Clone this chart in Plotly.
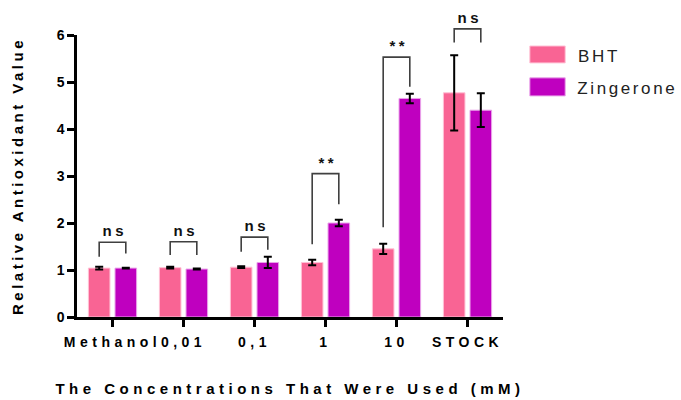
import plotly.graph_objects as go

categories = ["Methanol", "0,01", "0,1", "1", "10", "STOCK"]
series_names = ["BHT", "Zingerone"]
bht_values = [1.04, 1.05, 1.06, 1.16, 1.45, 4.77]
bht_errors = [0.03, 0.02, 0.02, 0.06, 0.11, 0.80]
zing_values = [1.04, 1.02, 1.16, 2.00, 4.65, 4.40]
zing_errors = [0.01, 0.01, 0.12, 0.07, 0.10, 0.36]
sig_labels = ["ns", "ns", "ns", "**", "**", "ns"]
bracket_top = [1.59, 1.60, 1.70, 3.05, 5.53, 6.13]
bracket_left_end = [1.28, 1.32, 1.39, 1.55, 1.91, 5.84]
bracket_right_end = [1.35, 1.32, 1.43, 2.40, 4.90, 5.84]
y_ticks = [0, 1, 2, 3, 4, 5, 6]

colors = ["#F96494", "#BF00BF"]
outline = ["#FFC2D6", "#E9A3E9"]
BARGAP = 0.25
Y_MAX = 6
FONT = "Liberation Sans, Arial, sans-serif"


def ydom(v):
    return v / Y_MAX


x_idx = list(range(len(categories)))
fig = go.Figure()
for name, vals, errs, c, oc in [
    (series_names[0], bht_values, bht_errors, colors[0], outline[0]),
    (series_names[1], zing_values, zing_errors, colors[1], outline[1]),
]:
    fig.add_trace(go.Bar(
        x=x_idx, y=vals, name=name,
        marker=dict(color=c, line=dict(color=oc, width=1)),
        error_y=dict(type="data", array=errs, visible=True, color="black",
                     thickness=2, width=4),
        showlegend=False,
    ))

off = (1 - BARGAP) / 4
for i, lab in enumerate(sig_labels):
    x0, x1 = i - off, i + off
    yl, yt, yr = ydom(bracket_left_end[i]), ydom(bracket_top[i]), ydom(bracket_right_end[i])
    fig.add_shape(type="path",
                  path=f"M {x0},{yl} L {x0},{yt} L {x1},{yt} L {x1},{yr}",
                  line=dict(color="#404040", width=1.6), xref="x", yref="y domain")
    fig.add_annotation(x=i, y=yt, xref="x", yref="y domain", text=f"<b>{lab}</b>",
                       showarrow=False, yanchor="bottom", yshift=1, xshift=2,
                       font=dict(family=FONT, size=15, color="#111"))

# custom legend
leg_y = [(0.961, 0.901, 0.922), (0.848, 0.784, 0.812)]
leg_text_x = [1.222, 1.290]
for (y0, y1, yt), name, c, oc, tx in zip(leg_y, series_names, colors, outline, leg_text_x):
    fig.add_shape(type="rect", xref="paper", yref="paper", x0=1.063, x1=1.146,
                  y0=y1, y1=y0, fillcolor=c, line=dict(color=oc, width=1))
    fig.add_annotation(xref="paper", yref="paper", x=tx, y=yt, text=name,
                       showarrow=False, xanchor="center", yanchor="middle", xshift=1,
                       font=dict(family=FONT, size=17, color="#222"))

fig.update_layout(
    width=681, height=400,
    margin=dict(l=77, r=178, t=35, b=83, autoexpand=False),
    plot_bgcolor="white", paper_bgcolor="white",
    barmode="group", bargap=BARGAP, bargroupgap=0.19,
    font=dict(family=FONT, color="black"),
)
fig.update_xaxes(
    range=[-0.5, 5.5], tickvals=x_idx, ticktext=[f"<b>{c}</b>" for c in categories],
    showline=True, linecolor="black", linewidth=2.5, automargin=False,
    ticks="outside", ticklen=7, tickwidth=2.5, tickcolor="black",
    ticklabelstandoff=3,
    showgrid=False, zeroline=False,
    tickfont=dict(family=FONT, size=14, color="black"),
    title=dict(text="<b>The Concentrations That Were Used (mM)</b>",
               font=dict(family=FONT, size=15, color="black"),
               standoff=35),
)
fig.update_yaxes(
    range=[0, Y_MAX], tickvals=y_ticks, ticktext=[f"<b>{t}</b>" for t in y_ticks],
    showline=True, linecolor="black", linewidth=2.5, automargin=False,
    ticks="outside", ticklen=7, tickwidth=2.5, tickcolor="black",
    showgrid=False, zeroline=False,
    tickfont=dict(family=FONT, size=14, color="black"),
    title=dict(text="<b>Relative Antioxidant Value</b>",
               font=dict(family=FONT, size=15, color="black"),
               standoff=30),
)

css = ("body{margin:0}"
       ".xtitle{letter-spacing:4.5px}"
       ".ytitle{letter-spacing:3.5px}"
       ".xtick text{letter-spacing:4.5px}"
       ".annotation-text{letter-spacing:3.5px}"
       ".annotation[data-index=\"6\"] .annotation-text,"
       ".annotation[data-index=\"7\"] .annotation-text{letter-spacing:2.6px}")
post = ("var s=document.createElement('style');s.innerHTML='" + css +
        "';document.head.appendChild(s);")
fig.write_html("out.html", post_script=post, config={"displayModeBar": False})
